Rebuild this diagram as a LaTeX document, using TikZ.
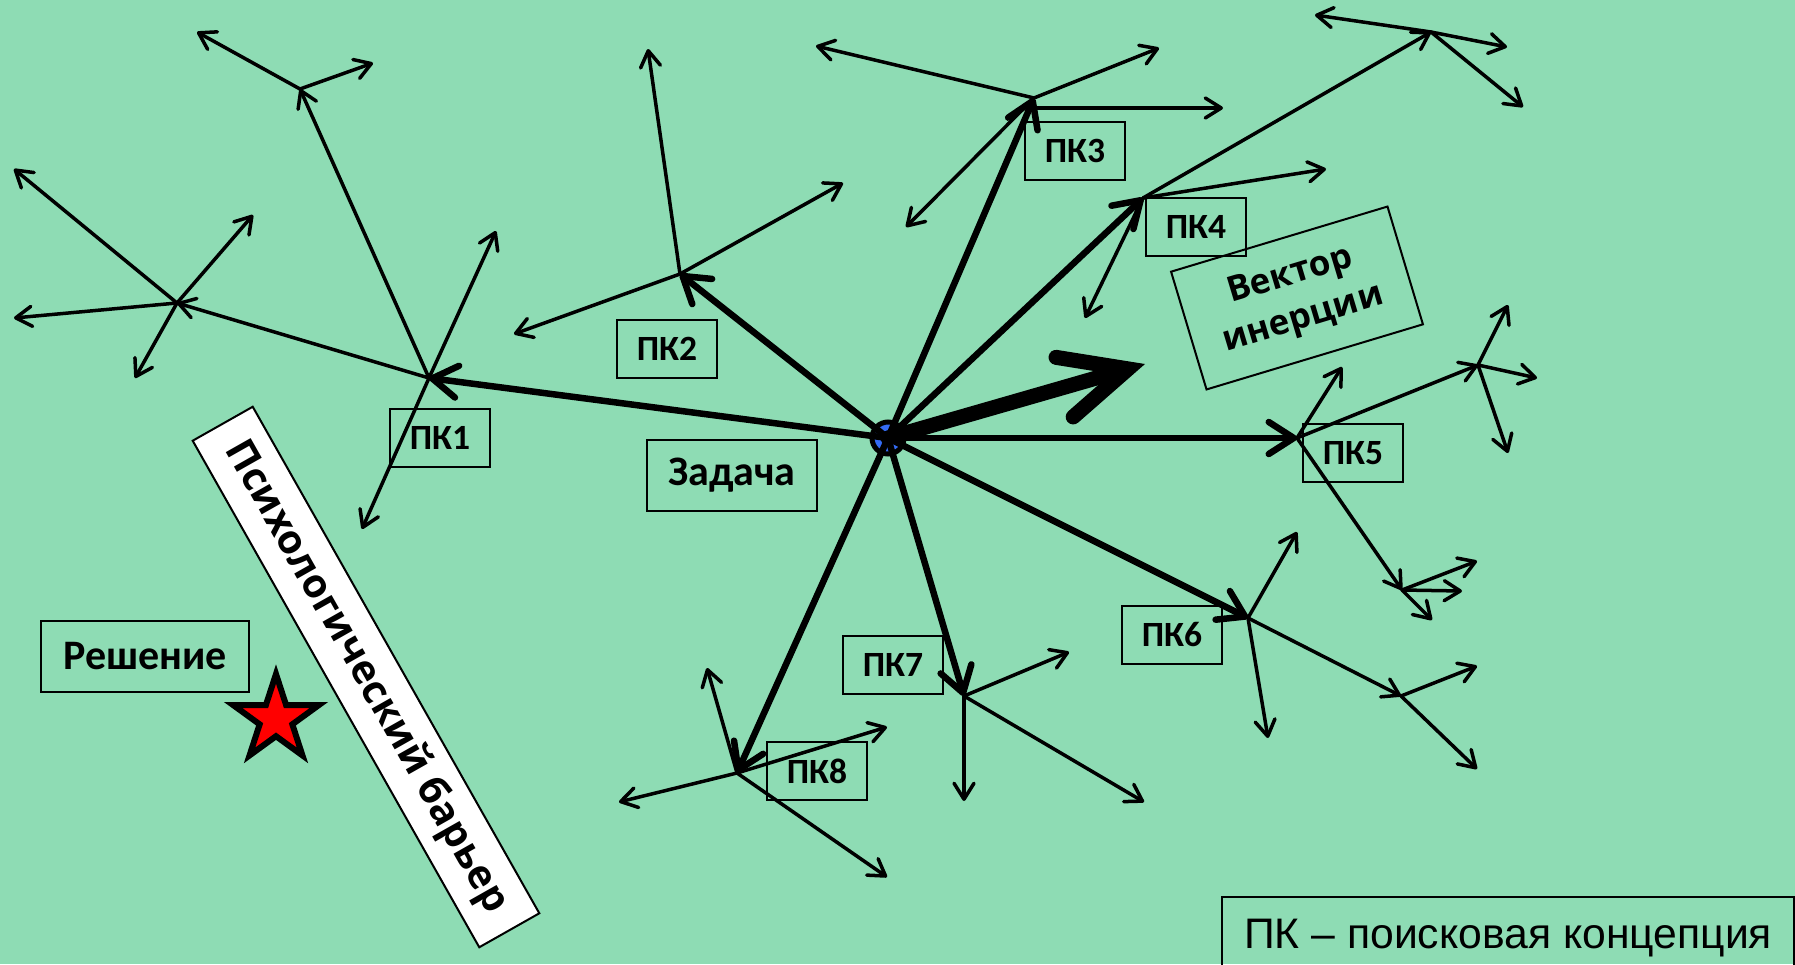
\documentclass[tikz,border=0pt]{standalone}
\usepackage{fontspec}
\usetikzlibrary{arrows.meta,shapes.geometric}
\newfontfamily\pkfont{Carlito}
\newfontfamily\osfont{Open Sans}
\newfontfamily\lgfont{Liberation Sans}
\definecolor{bgmint}{RGB}{142,220,180}
\definecolor{hubblue}{RGB}{52,108,245}
\definecolor{starred}{RGB}{255,0,0}
\tikzset{
  thinarrow/.style={line width=3.5bp, line cap=round,
    -{Straight Barb[length=16bp,width=20bp,round]}},
  mainarrow/.style={line width=6.5bp, line cap=round,
    -{Straight Barb[length=25bp,width=32bp,round]}},
  inertiaarrow/.style={line width=15bp, line cap=round,
    -{Straight Barb[length=66bp,width=62bp,line cap=round,line join=miter]}},
  pkbox/.style={draw, line width=2bp, minimum width=100bp, minimum height=58bp,
    inner sep=0pt, font=\pkfont\bfseries\fontsize{35.5bp}{40bp}\selectfont},
  bigbox/.style={draw, line width=2bp, minimum height=71bp, inner sep=0pt,
    font=\pkfont\bfseries\fontsize{42bp}{48bp}\selectfont},
}
\begin{document}
\begin{tikzpicture}[x=1bp,y=-1bp]
\useasboundingbox (0,0) rectangle (1795,964);
\clip (0,0) rectangle (1795,964);
\fill[bgmint] (0,0) rectangle (1795,964);

% centre: the problem
\node[circle, draw, line width=5bp, fill=hubblue, minimum size=32bp, inner sep=0pt] (hub) at (888,438) {};

% end points of the search concepts
\coordinate (P1) at (429,378);
\coordinate (P2) at (680,274);
\coordinate (P3) at (1034,98);
\coordinate (P3h) at (1037,108);
\coordinate (P4) at (1143,198);
\coordinate (P5) at (1297,438);
\coordinate (P6) at (1248,618);
\coordinate (P7) at (964,696);
\coordinate (P8) at (737,773);
\coordinate (V)  at (1145,364);
% second-level branch points
\coordinate (A1) at (300,89);
\coordinate (A2) at (177,303);
\coordinate (B)  at (1431,32);
\coordinate (C)  at (1478,365);
\coordinate (D)  at (1402,590);
\coordinate (E)  at (1401,696);
% free ends
\coordinate (a1) at (197,32);   \coordinate (a2) at (373,63);
\coordinate (b1) at (14,169);   \coordinate (b2) at (14,318);
\coordinate (b3) at (253,215);  \coordinate (b4) at (135,378);
\coordinate (c1) at (496,231);  \coordinate (c2) at (362,529);
\coordinate (d1) at (648,49);   \coordinate (d2) at (843,183);  \coordinate (d3) at (514,334);
\coordinate (e1) at (816,46);   \coordinate (e2) at (1159,48);
\coordinate (e3) at (1223,108); \coordinate (e4) at (906,227);
\coordinate (f1) at (1326,169); \coordinate (f2) at (1085,318);
\coordinate (g1) at (1315,15);  \coordinate (g2) at (1507,47);  \coordinate (g3) at (1523,107);
\coordinate (h1) at (1342,367);
\coordinate (i1) at (1508,305); \coordinate (i2) at (1537,378); \coordinate (i3) at (1508,453);
\coordinate (j1) at (1477,561); \coordinate (j2) at (1462,591); \coordinate (j3) at (1432,620);
\coordinate (k1) at (1297,532); \coordinate (k2) at (1268,738);
\coordinate (l1) at (1477,666); \coordinate (l2) at (1477,769);
\coordinate (m1) at (1069,652); \coordinate (m2) at (964,801);  \coordinate (m3) at (1144,802);
\coordinate (n1) at (707,668);  \coordinate (n2) at (887,727);
\coordinate (n3) at (619,802);  \coordinate (n4) at (887,877);

% branching of the search
\foreach \s/\t in {P1/A1,P1/A2,P1/c1,P1/c2,A1/a1,A1/a2,A2/b1,A2/b2,A2/b3,A2/b4,
                   P2/d1,P2/d2,P2/d3,P3/e1,P3/e2,P3h/e3,P3/e4,
                   P4/B,P4/f1,P4/f2,B/g1,B/g2,B/g3,
                   P5/C,P5/h1,P5/D,C/i1,C/i2,C/i3,D/j1,D/j2,D/j3,
                   P6/k1,P6/E,P6/k2,E/l1,E/l2,
                   P7/m1,P7/m2,P7/m3,P8/n1,P8/n2,P8/n3,P8/n4}
  \draw[thinarrow] (\s) -- (\t);

% main directions from the problem
\foreach \t in {P1,P2,P3,P4,P5,P6,P7,P8}
  \draw[mainarrow] (hub.center) -- (\t);
\draw[inertiaarrow] (hub.center) -- (V);

% labels
\node[pkbox] (pk1) at (440,438) {ПК1};
\node[pkbox] (pk2) at (667,349) {ПК2};
\node[pkbox] (pk3) at (1075,151) {ПК3};
\node[pkbox] (pk4) at (1196,227) {ПК4};
\node[pkbox] (pk5) at (1353,453) {ПК5};
\node[pkbox] (pk6) at (1172,635) {ПК6};
\node[pkbox] (pk7) at (893,665) {ПК7};
\node[pkbox] (pk8) at (817,771) {ПК8};
\node[bigbox, minimum width=170bp] (task) at (732,475) {Задача};
\node[bigbox, minimum width=207bp] (sol) at (145,656) {Решение};

\node[draw, line width=2bp, minimum width=226bp, minimum height=123bp, inner sep=0pt,
      rotate=16.75, align=center, font=\osfont\bfseries\fontsize{35bp}{45bp}\selectfont]
      (inertia) at (1297,298) {Вектор\\инерции};

\node[draw, line width=2bp, fill=white, minimum width=582bp, minimum height=69bp,
      inner sep=0pt, rotate=-60.5, font=\osfont\bfseries\fontsize{40bp}{46bp}\selectfont]
      (barrier) at (366,677) {Психологический барьер};

\node[star, star points=5, star point ratio=2.618, minimum size=90bp, inner sep=0pt,
      draw, line width=6bp, fill=starred] (star) at (276,719) {};

\node[draw, line width=2bp, minimum width=572bp, minimum height=82bp, inner sep=0pt,
      anchor=north west, font=\lgfont\fontsize{42.7bp}{48bp}\selectfont]
      (legend) at (1221,896) {ПК – поисковая концепция};
\end{tikzpicture}
\end{document}
